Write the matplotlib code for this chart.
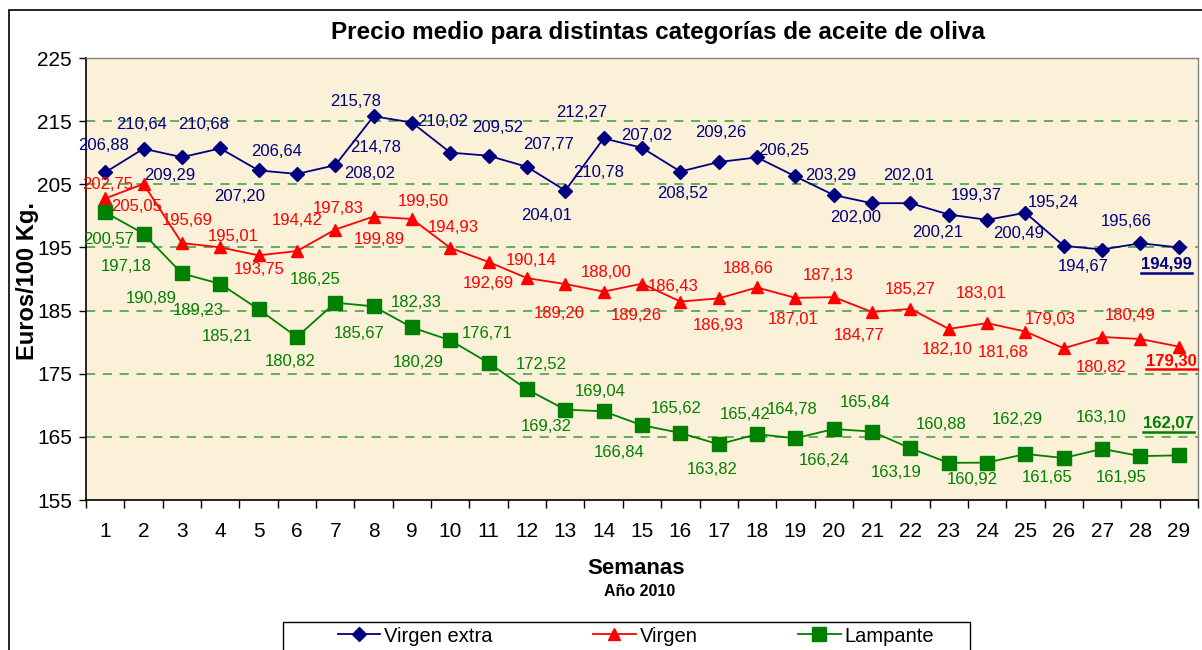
import matplotlib
matplotlib.use("Agg")
import matplotlib.pyplot as plt
import matplotlib.patches as patches
from matplotlib.lines import Line2D

plt.rcParams['font.family'] = ['Liberation Sans', 'DejaVu Sans']

# Data (semanas 1..29, año 2010)
semanas = list(range(1, 30))
virgen_extra = [206.88, 210.64, 209.29, 210.68, 207.20, 206.64, 208.02, 215.78, 214.78, 210.02,
                209.52, 207.77, 204.01, 212.27, 210.78, 207.02, 208.52, 209.26, 206.25, 203.29,
                202.00, 202.01, 200.21, 199.37, 200.49, 195.24, 194.67, 195.66, 194.99]
virgen = [202.75, 205.05, 195.69, 195.01, 193.75, 194.42, 197.83, 199.89, 199.50, 194.93,
          192.69, 190.14, 189.20, 188.00, 189.26, 186.43, 186.93, 188.66, 187.01, 187.13,
          184.77, 185.27, 182.10, 183.01, 181.68, 179.03, 180.82, 180.49, 179.30]
lampante = [200.57, 197.18, 190.89, 189.23, 185.21, 180.82, 186.25, 185.67, 182.33, 180.29,
            176.71, 172.52, 169.32, 169.04, 166.84, 165.62, 163.82, 165.42, 164.78, 166.24,
            165.84, 163.19, 160.88, 160.92, 162.29, 161.65, 163.10, 161.95, 162.07]
y_ticks = [155, 165, 175, 185, 195, 205, 215, 225]

# data label offsets from each point, in pixels (dx right, dy down) - as Excel placed them
off_extra = [(-2, -27), (-2, -24), (-12, 18), (-17, -24), (-19, 26), (-20, -22), (34, 8), (-18, -15),
             (-36, 25), (-8, -31), (9, -28), (22, -22), (-19, 25), (-22, -26), (-43, 25), (-34, -36),
             (-36, 31), (-36, -25), (-12, -26), (-3, -20), (-16, 14), (-2, -28), (-11, 18), (-11, -24),
             (-7, 21), (-11, -43), (-19, 17), (-14, -22), (-12, 17)]
off_virgen = [(2, -14), (-7, 23), (5, -23), (13, -11), (1, 14), (0, -31), (3, -21), (6, 23),
              (11, -18), (3, -20), (0, 21), (4, -18), (-6, 29), (2, -19), (-6, 32), (-7, -15),
              (-1, 27), (-9, -19), (-2, 22), (-6, -22), (-13, 23), (0, -19), (-2, 21), (-6, -30),
              (-22, 21), (-14, -29), (-1, 31), (-10, -24), (-7, 14)]
off_lamp = [(3, 27), (-17, 33), (-31, 25), (-22, 27), (-31, 27), (-7, 25), (-20, -23), (-14, 27),
            (4, -25), (-32, 22), (-1, -29), (14, -25), (-19, 17), (-3, -20), (-23, 27), (-4, -24),
            (-7, 25), (-12, -20), (-3, -29), (-10, 31), (-7, -29), (-14, 24), (-8, -38), (-15, 17),
            (-8, -34), (-17, 19), (-1, -31), (-19, 21), (-10, -32)]

W, H = 1202, 650
fig = plt.figure(figsize=(W / 100, H / 100), dpi=100)
fig.patch.set_facecolor('white')
ax = fig.add_axes([86 / W, 1 - 500 / H, (1198 - 86) / W, (500 - 58) / H])
ax.set_facecolor('#FBF0D8')

c_extra, c_virgen, c_lamp = '#000080', '#FF0000', '#008000'

ax.plot(semanas, virgen_extra, color=c_extra, lw=1.3, marker='D', ms=7, label='Virgen extra', zorder=4)
ax.plot(semanas, virgen, color=c_virgen, lw=1.3, marker='^', ms=9, label='Virgen', zorder=4)
ax.plot(semanas, lampante, color=c_lamp, lw=1.3, marker='s', ms=10, label='Lampante', zorder=4)

ax.set_xlim(0.5, 29.5)
ax.set_ylim(155, 225)
ax.set_yticks(y_ticks)
for g in y_ticks[1:-1]:
    ax.axhline(g, color='#3C9A3C', lw=1.1, ls=(0, (6, 5)), zorder=1)

# x ticks: marks between categories, labels centered
ax.set_xticks([i + 0.5 for i in range(0, 30)])
ax.set_xticklabels([])
ax.set_xticks(semanas, minor=True)
ax.set_xticklabels([str(s) for s in semanas], minor=True, fontsize=15)
ax.tick_params(axis='x', which='major', direction='out', length=6, width=1)
ax.tick_params(axis='x', which='minor', length=0, pad=16)
ax.tick_params(axis='y', direction='out', length=5, width=1, labelsize=15, pad=5)

for s in ['top', 'right']:
    ax.spines[s].set_color('#808080')
    ax.spines[s].set_linewidth(1)
for s in ['left', 'bottom']:
    ax.spines[s].set_color('black')
    ax.spines[s].set_linewidth(1.2)


def fmt(v):
    return f"{v:.2f}".replace('.', ',')


def add_labels(vals, offs, color):
    last = []
    for i, (x, v) in enumerate(zip(semanas, vals)):
        dx, dy = offs[i]
        bold = i == len(vals) - 1
        t = ax.annotate(fmt(v), (x, v), xytext=(dx * 0.72, -dy * 0.72), textcoords='offset points',
                        ha='center', va='center', fontsize=12, color=color,
                        fontweight='bold' if bold else 'normal', zorder=5)
        if bold:
            last.append(t)
    return last


underlined = []
underlined += [(t, c_extra) for t in add_labels(virgen_extra, off_extra, c_extra)]
underlined += [(t, c_virgen) for t in add_labels(virgen, off_virgen, c_virgen)]
underlined += [(t, c_lamp) for t in add_labels(lampante, off_lamp, c_lamp)]

fig.text(658 / W, 1 - 32 / H, 'Precio medio para distintas categorías de aceite de oliva',
         ha='center', va='center', fontsize=17.5, fontweight='bold')
fig.text(28 / W, 1 - 281 / H, 'Euros/100 Kg.', ha='center', va='center', rotation=90,
         fontsize=17, fontweight='bold')
fig.text(636 / W, 1 - 568 / H, 'Semanas', ha='center', va='center', fontsize=16, fontweight='bold')
fig.text(640 / W, 1 - 592 / H, 'Año 2010', ha='center', va='center', fontsize=11.5, fontweight='bold')

leg = fig.legend(loc='center', bbox_to_anchor=(636 / W, 1 - 636 / H), ncol=3, frameon=False,
                 fontsize=14.5, handlelength=2.1, handletextpad=0.2, columnspacing=5.0,
                 borderaxespad=0, borderpad=0)

# legend box (runs off the bottom edge like the original)
fig.patches.append(patches.Rectangle((283 / W, -0.1), (970 - 283) / W, 0.1 + 1 - 622 / H,
                                     transform=fig.transFigure, fill=False, edgecolor='black', lw=1))
# outer chart border
fig.patches.append(patches.Rectangle((9 / W, -0.1), 1.2, 1 - 10 / H + 0.1, transform=fig.transFigure,
                                     fill=False, edgecolor='black', lw=1.2))

# underline the last values
fig.canvas.draw()
r = fig.canvas.get_renderer()
for t, c in underlined:
    bb = t.get_window_extent(r)
    fig.add_artist(Line2D([bb.x0 / W, bb.x1 / W], [(bb.y0 - 1) / H, (bb.y0 - 1) / H],
                          transform=fig.transFigure, color=c, lw=1.8))

fig.savefig('out.png', dpi=100)
